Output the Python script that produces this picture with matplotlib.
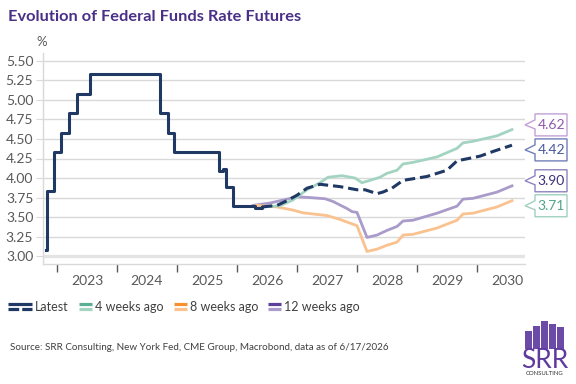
import matplotlib
matplotlib.use("Agg")
import matplotlib.pyplot as plt
from matplotlib.legend_handler import HandlerBase
from matplotlib.lines import Line2D
from matplotlib.patches import Polygon, Rectangle
from matplotlib.transforms import IdentityTransform

plt.rcParams['font.family'] = ['Lato', 'DejaVu Sans']

# ---------------- data ----------------
title = "Evolution of Federal Funds Rate Futures"
source = "Source: SRR Consulting, New York Fed, CME Group, Macrobond, data as of 6/17/2026"
years = [2023, 2024, 2025, 2026, 2027, 2028, 2029, 2030]
y_ticks = [3.00, 3.25, 3.50, 3.75, 4.00, 4.25, 4.50, 4.75, 5.00, 5.25, 5.50]
labels = ["Latest", "4 weeks ago", "8 weeks ago", "12 weeks ago"]

# realised effective rate (decimal years, step changes)
hist_x = [2022.82, 2022.83, 2022.95, 2023.07, 2023.20, 2023.33, 2023.55, 2024.72,
          2024.85, 2024.95, 2025.705, 2025.76, 2025.82, 2025.94, 2026.30, 2026.42]
hist_y = [3.08, 3.83, 4.33, 4.58, 4.83, 5.08, 5.33, 4.83,
          4.58, 4.33, 4.09, 4.12, 3.88, 3.64, 3.62, 3.63]

latest_x = [2026.417, 2026.667, 2026.833, 2027.0, 2027.167, 2027.383, 2027.717, 2028.0,
            2028.133, 2028.333, 2028.43, 2028.583, 2028.767, 2029.167, 2029.5, 2029.667,
            2030.05, 2030.267, 2030.583]
latest_y = [3.63, 3.65, 3.71, 3.78, 3.87, 3.92, 3.89, 3.85,
            3.85, 3.80, 3.82, 3.87, 3.97, 4.02, 4.10, 4.22,
            4.28, 4.34, 4.42]

wk4_x = [2026.433, 2026.717, 2026.933, 2027.167, 2027.383, 2027.517, 2027.75, 2027.967,
         2028.083, 2028.217, 2028.383, 2028.5, 2028.667, 2028.767, 2028.933, 2029.333,
         2029.667, 2029.767, 2029.933, 2030.333, 2030.583]
wk4_y = [3.63, 3.645, 3.72, 3.85, 3.94, 4.01, 4.03, 4.00,
         3.94, 3.97, 4.01, 4.06, 4.10, 4.18, 4.20, 4.27,
         4.38, 4.45, 4.47, 4.54, 4.62]

wk8_x = [2026.333, 2026.667, 2026.933, 2027.1, 2027.5, 2027.717, 2028.0, 2028.167,
         2028.333, 2028.5, 2028.667, 2028.767, 2028.933, 2029.333, 2029.667, 2029.767,
         2029.933, 2030.333, 2030.583]
wk8_y = [3.65, 3.63, 3.59, 3.555, 3.52, 3.47, 3.39, 3.06,
         3.09, 3.14, 3.18, 3.27, 3.28, 3.36, 3.46, 3.54,
         3.55, 3.63, 3.71]

wk12_x = [2026.267, 2026.55, 2026.833, 2027.0, 2027.217, 2027.467, 2027.6, 2027.833,
          2027.917, 2028.0, 2028.167, 2028.333, 2028.5, 2028.667, 2028.767, 2028.933,
          2029.333, 2029.667, 2029.767, 2029.933, 2030.333, 2030.583]
wk12_y = [3.65, 3.68, 3.73, 3.76, 3.75, 3.735, 3.70, 3.61,
          3.57, 3.56, 3.24, 3.27, 3.33, 3.38, 3.45, 3.46,
          3.55, 3.64, 3.73, 3.74, 3.82, 3.90]

# ---------------- style ----------------
NAVY = "#1f3864"
GREEN_L, GREEN_D = "#a3d4c2", "#5aae96"
ORANGE_L, ORANGE_D = "#f9c28f", "#f7902f"
PURPLE_L, PURPLE_D = "#a99bca", "#5b3f99"
GRID = "#d9d9d9"
TXT = "#595959"
W, H = 576, 384

fig = plt.figure(figsize=(W / 100, H / 100), dpi=100)
ax = fig.add_axes([43 / W, 1 - 264 / H, (525 - 43) / W, (264 - 53) / H])

ax.set_xlim(2022.767, 2030.8)
ax.set_ylim(2.9, 5.6)

for v in y_ticks[1:]:
    ax.axhline(v, color=GRID, lw=1.0, zorder=0)
ax.axhline(y_ticks[0], color="#e4e4e4", lw=2.4, zorder=0)

ax.plot(wk12_x, wk12_y, color=PURPLE_L, lw=2.0, zorder=2, solid_joinstyle="round")
ax.plot(wk8_x, wk8_y, color=ORANGE_L, lw=2.0, zorder=2, solid_joinstyle="round")
ax.plot(wk4_x, wk4_y, color=GREEN_L, lw=2.0, zorder=3, solid_joinstyle="round")
ax.plot(hist_x, hist_y, color=NAVY, lw=2.2, drawstyle="steps-post", zorder=4)
ax.plot(latest_x, latest_y, color=NAVY, lw=2.2, dashes=(3.4, 1.6), zorder=4)

ax.set_yticks(y_ticks)
ax.set_yticklabels([f"{v:.2f}" for v in y_ticks])
ax.tick_params(axis="y", length=5, color=GRID, labelcolor=TXT, labelsize=10, pad=2)
ax.set_xticks(years)
ax.set_xticklabels([])
ax.set_xticks([y + 0.5 for y in years], minor=True)
ax.set_xticklabels([str(y) for y in years], minor=True)
ax.tick_params(axis="x", which="major", length=6, color="#595959", width=1)
ax.tick_params(axis="x", which="minor", length=0, labelcolor=TXT, labelsize=10, pad=8)
for s in ["top", "right"]:
    ax.spines[s].set_visible(False)
for s in ["left", "bottom"]:
    ax.spines[s].set_color(GRID)
    ax.spines[s].set_linewidth(1.0)

fig.text(8 / W, 1 - 17 / H, title, fontsize=11.8, fontweight="bold", color="#4a2f87",
         ha="left", va="center")
fig.text(42 / W, 1 - 42 / H, "%", fontsize=9.5, color=TXT, ha="center", va="center")
fig.text(10 / W, 1 - 348 / H, source, fontsize=7.1, color="#404040", ha="left", va="center")

# ---------------- legend ----------------
class TwoLine(HandlerBase):
    def __init__(self, c1, c2, dashed=False, length=None):
        super().__init__()
        self.c1, self.c2, self.dashed, self.length = c1, c2, dashed, length

    def create_artists(self, legend, orig_handle, xdescent, ydescent, width, height,
                       fontsize, trans):
        yc = height / 2 - ydescent
        x1 = width - xdescent
        x0 = x1 - self.length if self.length else -xdescent
        l1 = Line2D([x0, x1], [yc + 1.9, yc + 1.9], color=self.c1, lw=2.3,
                    solid_capstyle="butt", transform=trans)
        l2 = Line2D([x0, x1], [yc - 1.9, yc - 1.9], color=self.c2, lw=2.3,
                    solid_capstyle="butt", transform=trans)
        if self.dashed:
            l2.set_dashes((3.35, 0.95))
            l2.set_dash_capstyle("butt")
        return [l1, l2]

handles = [Line2D([], []) for _ in labels]
hmap = {
    handles[0]: TwoLine(NAVY, NAVY, dashed=True, length=17.5),
    handles[1]: TwoLine(GREEN_D, GREEN_L),
    handles[2]: TwoLine(ORANGE_D, ORANGE_L),
    handles[3]: TwoLine(PURPLE_D, PURPLE_L),
}
fig.legend(handles, labels, handler_map=hmap, loc="center left",
           bbox_to_anchor=(19 / W, 1 - 307 / H), ncol=4, frameon=False,
           fontsize=9, labelcolor="#404040", handlelength=1.05, handletextpad=0.25,
           columnspacing=0.8, borderaxespad=0, borderpad=0)

# ---------------- end labels ----------------
fig.canvas.draw()
ends = [
    (wk4_x[-1], wk4_y[-1], "#c49fd6", "#8e59ad"),
    (latest_x[-1], latest_y[-1], "#6f7fb8", "#4a5aa0"),
    (wk12_x[-1], wk12_y[-1], "#8f82c0", "#3e2f7a"),
    (wk8_x[-1], wk8_y[-1], "#9fd1bf", "#4fa58a"),
]
pix = []
for x, v, ec, tc in ends:
    _, yd = ax.transData.transform((x, v))
    pix.append(yd)
min_gap = 25
centers = list(pix)
for i in range(0, len(centers) - 1, 2):
    a, b = centers[i], centers[i + 1]
    if a - b < min_gap:
        m = (a + b) / 2
        centers[i], centers[i + 1] = m + min_gap / 2, m - min_gap / 2

tip_x, bl, br, hh = 525, 535, 567, 11
for (x, v, ec, tc), cy in zip(ends, centers):
    pts = [(bl, cy + hh), (br, cy + hh), (br, cy - hh), (bl, cy - hh),
           (bl, cy - 4), (tip_x, cy), (bl, cy + 5)]
    poly = Polygon(pts, closed=True, facecolor="white", edgecolor=ec, lw=1.0,
                   transform=IdentityTransform(), clip_on=False)
    fig.patches.append(poly)
    fig.text((bl + br) / 2 / W + 0.5 / W, cy / H, f"{v:.2f}", color=tc, fontsize=10,
             ha="center", va="center")

# ---------------- logo ----------------
bar_tops = [331, 326, 321, 323.5, 327]
for i, t in enumerate(bar_tops):
    x0 = 525 + i * 8
    fig.patches.append(Rectangle((x0 / W, 1 - 349 / H), 7 / W, (349 - t) / H,
                                 transform=fig.transFigure, facecolor="#6c4aa8",
                                 edgecolor="none"))
fig.text(545 / W, 1 - 360 / H, "SRR", fontsize=19, color="#5e3a9e", ha="center",
         va="center")
fig.text(545 / W, 1 - 373.5 / H, "CONSULTING", fontsize=4.3, color="#333333",
         ha="center", va="center")

fig.savefig("out.png", dpi=100)
